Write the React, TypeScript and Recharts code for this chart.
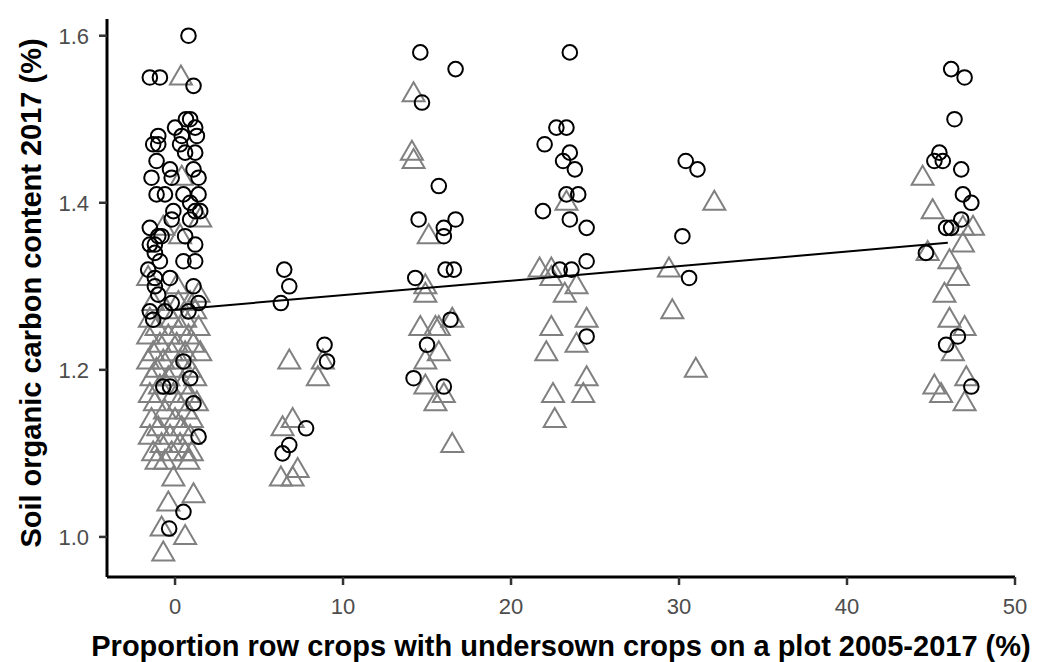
import React from 'react';
import { ScatterChart, Scatter, XAxis, YAxis, Label } from 'recharts';

// x = proportion row crops with undersown crops (%), y = soil organic carbon 2017 (%)
const circles: [number, number][] = [
  // ~0 %
  [0.8, 1.6], [-1.5, 1.55], [-0.9, 1.55], [1.1, 1.54], [0.9, 1.5], [1.2, 1.49], [0.65, 1.5],
  [0.0, 1.49], [-1.0, 1.48], [-1.3, 1.47], [-1.0, 1.47], [0.4, 1.48], [0.3, 1.47], [1.3, 1.48],
  [1.2, 1.46], [0.6, 1.46], [-1.1, 1.45], [-1.4, 1.43], [-0.3, 1.44], [-0.2, 1.43], [1.1, 1.44],
  [1.4, 1.43], [-1.1, 1.41], [-0.6, 1.41], [0.5, 1.41], [1.4, 1.41], [-0.1, 1.39], [0.9, 1.4],
  [1.2, 1.39], [1.5, 1.39], [0.9, 1.38], [-1.5, 1.37], [-0.2, 1.38], [-1.0, 1.36], [-1.5, 1.35],
  [-1.2, 1.35], [-0.8, 1.36], [-0.9, 1.33], [-1.2, 1.34], [1.2, 1.35], [1.2, 1.33], [0.5, 1.33],
  [0.6, 1.36], [-1.6, 1.32], [-1.2, 1.3], [-0.3, 1.31], [1.1, 1.3], [-1.2, 1.31], [-1.0, 1.29],
  [1.4, 1.28], [-1.5, 1.27], [-1.3, 1.26], [-0.6, 1.27], [-0.2, 1.28], [0.8, 1.27], [0.5, 1.21],
  [0.9, 1.19], [-0.7, 1.18], [-0.3, 1.18], [1.1, 1.16], [1.4, 1.12], [0.5, 1.03], [-0.35, 1.01],
  // ~7 %
  [6.5, 1.32], [6.8, 1.3], [6.3, 1.28], [8.9, 1.23], [9.05, 1.21], [7.8, 1.13], [6.8, 1.11], [6.4, 1.1],
  // ~15 %
  [14.6, 1.58], [16.7, 1.56], [14.7, 1.52], [15.7, 1.42], [14.5, 1.38], [16.7, 1.38], [16.0, 1.37],
  [16.0, 1.36], [16.1, 1.32], [16.6, 1.32], [14.3, 1.31], [16.4, 1.26], [15.0, 1.23], [14.2, 1.19],
  [16.0, 1.18],
  // ~23 %
  [23.5, 1.58], [22.7, 1.49], [23.3, 1.49], [22.0, 1.47], [23.5, 1.46], [23.1, 1.45], [23.8, 1.44],
  [23.3, 1.41], [24.0, 1.41], [21.9, 1.39], [23.5, 1.38], [24.5, 1.37], [24.5, 1.33], [22.9, 1.32],
  [23.6, 1.32], [24.5, 1.24],
  // ~30 %
  [30.4, 1.45], [31.1, 1.44], [30.2, 1.36], [30.6, 1.31],
  // ~46 %
  [46.2, 1.56], [47.0, 1.55], [46.4, 1.5], [45.5, 1.46], [45.2, 1.45], [45.7, 1.45], [46.8, 1.44],
  [46.9, 1.41], [47.4, 1.4], [46.8, 1.38], [45.9, 1.37], [46.2, 1.37], [44.7, 1.34], [46.6, 1.24],
  [45.9, 1.23], [47.4, 1.18],
];

const triangles: [number, number][] = [
  // ~0 %
  [0.35, 1.55], [0.4, 1.43], [1.5, 1.38], [-0.7, 1.37], [0.3, 1.36], [-1.6, 1.31], [0.1, 1.3], [1.4, 1.29],
  [-1.3, 1.28], [0.2, 1.28], [0.9, 1.28], [-0.5, 1.27], [1.2, 1.27], [-1.5, 1.26], [-0.2, 1.26], [0.6, 1.26],
  [-1.1, 1.25], [0.3, 1.25], [1.4, 1.25], [-1.6, 1.24], [-0.4, 1.24], [0.8, 1.24], [-0.9, 1.23], [0.1, 1.23],
  [1.1, 1.23], [-1.3, 1.22], [-0.2, 1.22], [0.6, 1.22], [1.5, 1.22], [-1.6, 1.21], [-0.7, 1.21], [0.3, 1.21],
  [-1.1, 1.2], [0.0, 1.2], [0.9, 1.2], [-1.4, 1.19], [-0.4, 1.19], [1.2, 1.19], [-0.9, 1.18], [0.4, 1.18],
  [-1.5, 1.17], [-0.1, 1.17], [0.8, 1.17], [-1.2, 1.16], [0.2, 1.16], [1.3, 1.16], [-0.6, 1.15], [0.7, 1.15],
  [-1.4, 1.14], [0.0, 1.14], [1.0, 1.14], [-1.0, 1.13], [0.4, 1.13], [-1.5, 1.12], [-0.3, 1.12], [0.9, 1.12],
  [-0.8, 1.11], [0.3, 1.11], [-1.3, 1.1], [-0.2, 1.1], [0.6, 1.1], [1.0, 1.1], [-1.1, 1.09], [-0.6, 1.09],
  [0.8, 1.09], [-0.1, 1.07], [1.1, 1.05], [-0.4, 1.04], [-0.8, 1.01], [0.6, 1.0], [-0.7, 0.98],
  // ~7 %
  [6.8, 1.21], [8.8, 1.21], [8.5, 1.19], [7.0, 1.14], [6.4, 1.13], [6.3, 1.07], [7.0, 1.07], [7.3, 1.08],
  // ~15 %
  [14.2, 1.53], [14.1, 1.46], [14.2, 1.45], [15.1, 1.36], [14.9, 1.3], [14.9, 1.29], [14.6, 1.25],
  [15.5, 1.25], [15.7, 1.25], [16.5, 1.26], [15.7, 1.22], [14.9, 1.21], [14.9, 1.18], [16.0, 1.17],
  [15.5, 1.16], [16.5, 1.11],
  // ~23 %
  [23.3, 1.4], [21.7, 1.32], [22.4, 1.32], [22.4, 1.31], [23.2, 1.29], [23.9, 1.3], [24.5, 1.26],
  [22.4, 1.25], [23.9, 1.23], [22.1, 1.22], [24.5, 1.19], [24.3, 1.17], [22.5, 1.17], [22.6, 1.14],
  // ~30 %
  [32.1, 1.4], [29.4, 1.32], [29.6, 1.27], [31.0, 1.2],
  // ~46 %
  [44.5, 1.43], [45.1, 1.39], [47.5, 1.37], [46.9, 1.37], [46.9, 1.35], [44.8, 1.34], [46.1, 1.33],
  [46.6, 1.31], [45.8, 1.29], [46.1, 1.26], [47.0, 1.25], [46.3, 1.22], [47.1, 1.19], [45.2, 1.18],
  [45.6, 1.17], [47.0, 1.16],
];

// linear fit endpoints
const fitX = [0, 46];
const fitY = [1.272, 1.352];

const xTicks = [0, 10, 20, 30, 40, 50];
const yTicks = [1.0, 1.2, 1.4, 1.6];

const xTitle = 'Proportion row crops with undersown crops on a plot 2005-2017 (%)';
const yTitle = 'Soil organic carbon content 2017 (%)';

const circleData = circles.map(([x, y]) => ({ x, y }));
const triangleData = triangles.map(([x, y]) => ({ x, y }));
const fitData = fitX.map((x, i) => ({ x, y: fitY[i] }));

const font = '"Liberation Sans", Arial, sans-serif';
const titleStyle = { fill: '#000', fontSize: 29, fontWeight: 'bold' as const, fontFamily: font };

const CircleShape = (props: any) => (
  <circle cx={props.cx} cy={props.cy} r={7.3} fill="none" stroke="#000" strokeWidth={2} />
);

const TriangleShape = (props: any) => {
  const { cx, cy } = props;
  const pts = `${cx},${cy - 12} ${cx - 11},${cy + 7} ${cx + 11},${cy + 7}`;
  return <polygon points={pts} fill="none" stroke="#808080" strokeWidth={2} />;
};

const XTitle = (props: any) => {
  const vb = props.viewBox;
  const x = vb.x + vb.width / 2;
  const y = vb.y + vb.height - 6;
  return <text x={x} y={y} textAnchor="middle" style={titleStyle}>{xTitle}</text>;
};

const YTitle = (props: any) => {
  const vb = props.viewBox;
  const x = 41;
  const y = vb.y + vb.height / 2 - 5;
  return (
    <text x={x} y={y} textAnchor="middle" transform={`rotate(-90, ${x}, ${y})`} style={titleStyle}>
      {yTitle}
    </text>
  );
};

const App = () => {
  return (
    <div style={{ position: 'absolute', left: 0, top: 0, background: '#fff' }}>
      <ScatterChart width={1041} height={662} margin={{ top: 19, right: 26, bottom: 0, left: 0 }}>
        <XAxis
          type="number"
          dataKey="x"
          domain={[-4.05, 50]}
          ticks={xTicks}
          allowDataOverflow
          height={85}
          axisLine={{ stroke: '#000', strokeWidth: 3 }}
          tickLine={{ stroke: '#333', strokeWidth: 2.5 }}
          tickSize={8}
          tickMargin={13}
          tick={{ fill: '#4d4d4d', fontSize: 22, fontFamily: font }}
        >
          <Label content={XTitle} />
        </XAxis>
        <YAxis
          type="number"
          dataKey="y"
          domain={[0.952, 1.62]}
          ticks={yTicks}
          allowDataOverflow
          width={107}
          axisLine={{ stroke: '#000', strokeWidth: 3 }}
          tickLine={{ stroke: '#333', strokeWidth: 2.5 }}
          tickSize={8}
          tickMargin={10}
          tickFormatter={(v: number) => v.toFixed(1)}
          tick={{ fill: '#4d4d4d', fontSize: 22, fontFamily: font }}
        >
          <Label content={YTitle} />
        </YAxis>
        <Scatter data={triangleData} shape={TriangleShape} isAnimationActive={false} />
        <Scatter data={circleData} shape={CircleShape} isAnimationActive={false} />
        <Scatter
          data={fitData}
          line={{ stroke: '#000', strokeWidth: 2 }}
          shape={() => <g />}
          isAnimationActive={false}
        />
      </ScatterChart>
    </div>
  );
};

export default App;
